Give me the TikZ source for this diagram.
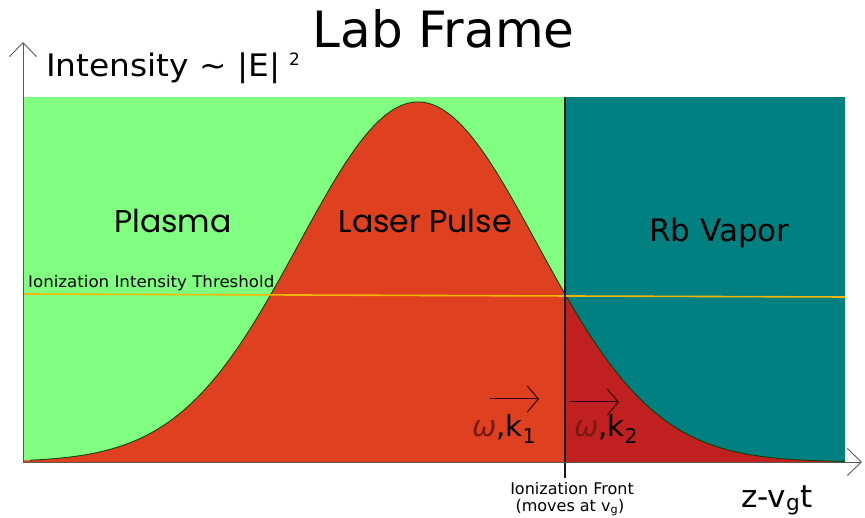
\documentclass[tikz,border=0pt]{standalone}
\usepackage{fontspec}
\setmainfont{DejaVu Sans}
\newfontfamily\geofont{Poppins}
\usetikzlibrary{arrows.meta}
\definecolor{plasmagreen}{HTML}{80FF80}
\definecolor{pulsered}{HTML}{DE4020}
\definecolor{vaporteal}{HTML}{008080}
\definecolor{frontred}{HTML}{C02020}
\definecolor{threshcol}{HTML}{F2B705}
\definecolor{omegared}{HTML}{7A1A10}
\begin{document}
\begin{tikzpicture}[x=1pt,y=-1pt,
  declare function={gy(\t)=462-360*exp(-0.5*((\t-418)/119)^2);},
  axisline/.style={draw=black!65,line width=0.9pt,-{Straight Barb[length=14pt,width=27pt]}},
  curveline/.style={draw=black!75!green,line width=0.8pt},
  frontline/.style={draw=black!90,line width=1.6pt},
  threshline/.style={draw=threshcol,line width=1.6pt},
  kvec/.style={draw=black!80!red,line width=1pt,-{Straight Barb[length=11pt,width=26pt]}},
  bigtxt/.style={font=\fontsize{31}{36}\selectfont,inner sep=0pt},
  geotxt/.style={font=\geofont\fontsize{31.5}{36}\selectfont,inner sep=0pt},
  titletxt/.style={font=\fontsize{50}{56}\selectfont,inner sep=0pt},
  smalltxt/.style={font=\fontsize{16}{18}\selectfont,inner sep=0pt},
  wavetxt/.style={font=\fontsize{29}{32}\selectfont,inner sep=0pt}
]
\useasboundingbox (0,0) rectangle (865,518);
% regions
\fill[plasmagreen] (23,97) rectangle (565,462);
\fill[vaporteal] (565,97) rectangle (845,462);
\fill[pulsered] (23,462) -- plot[domain=23:565,samples=150] (\x,{gy(\x)}) -- (565,462) -- cycle;
\fill[frontred] (565,462) -- plot[domain=565:845,samples=100] (\x,{gy(\x)}) -- (845,462) -- cycle;
\draw[curveline] plot[domain=30:845,samples=250] (\x,{gy(\x)});
% threshold
\coordinate (thL) at (23,294);
\coordinate (thR) at (845,297);
\draw[threshline] (thL) -- (thR);
% front
\coordinate (ftop) at (565,97);
\coordinate (fbot) at (565,478);
\draw[frontline] (ftop) -- (fbot);
% axes
\coordinate (origin) at (23,462);
\coordinate (ytip) at (23,42);
\coordinate (xtip) at (862,462);
\draw[axisline] (origin) -- (ytip);
\draw[axisline] (origin) -- (xtip);
% wave vectors
\coordinate (k1a) at (490,399);
\coordinate (k1b) at (539,399);
\coordinate (k2a) at (570,402);
\coordinate (k2b) at (619,402);
\draw[kvec] (k1a) -- (k1b);
\draw[kvec] (k2a) -- (k2b);
% texts
\node[titletxt,anchor=base] (title) at (443.5,48) {Lab Frame};
\node[bigtxt,anchor=base west,xscale=1.06] (ylabel) at (46,77) {Intensity \textasciitilde\ |E|};
\node[font=\fontsize{17}{20}\selectfont,inner sep=0pt,anchor=base west] (sq) at (289,66) {2};
\node[geotxt,anchor=base] (plasma) at (173,233) {Plasma};
\node[geotxt,anchor=base] (laser) at (425,233) {Laser Pulse};
\node[bigtxt,anchor=base] (rb) at (719.5,242) {Rb Vapor};
\node[smalltxt,anchor=base west,xscale=1.04] (thresh) at (28,288) {Ionization Intensity Threshold};
\node[smalltxt,anchor=base] (front1) at (572,494) {Ionization Front};
\node[smalltxt,anchor=base] (front2) at (570,511) {(moves at v\textsubscript{g})};
\node[bigtxt,anchor=base west] (zaxis) at (741,507) {z-v\textsubscript{g}t};
\node[wavetxt,anchor=base west] (w1) at (472,437) {\textcolor{omegared}{\itshape ω},k\textsubscript{1}};
\node[wavetxt,anchor=base west] (w2) at (574,437) {\textcolor{omegared}{\itshape ω},k\textsubscript{2}};
\end{tikzpicture}
\end{document}
